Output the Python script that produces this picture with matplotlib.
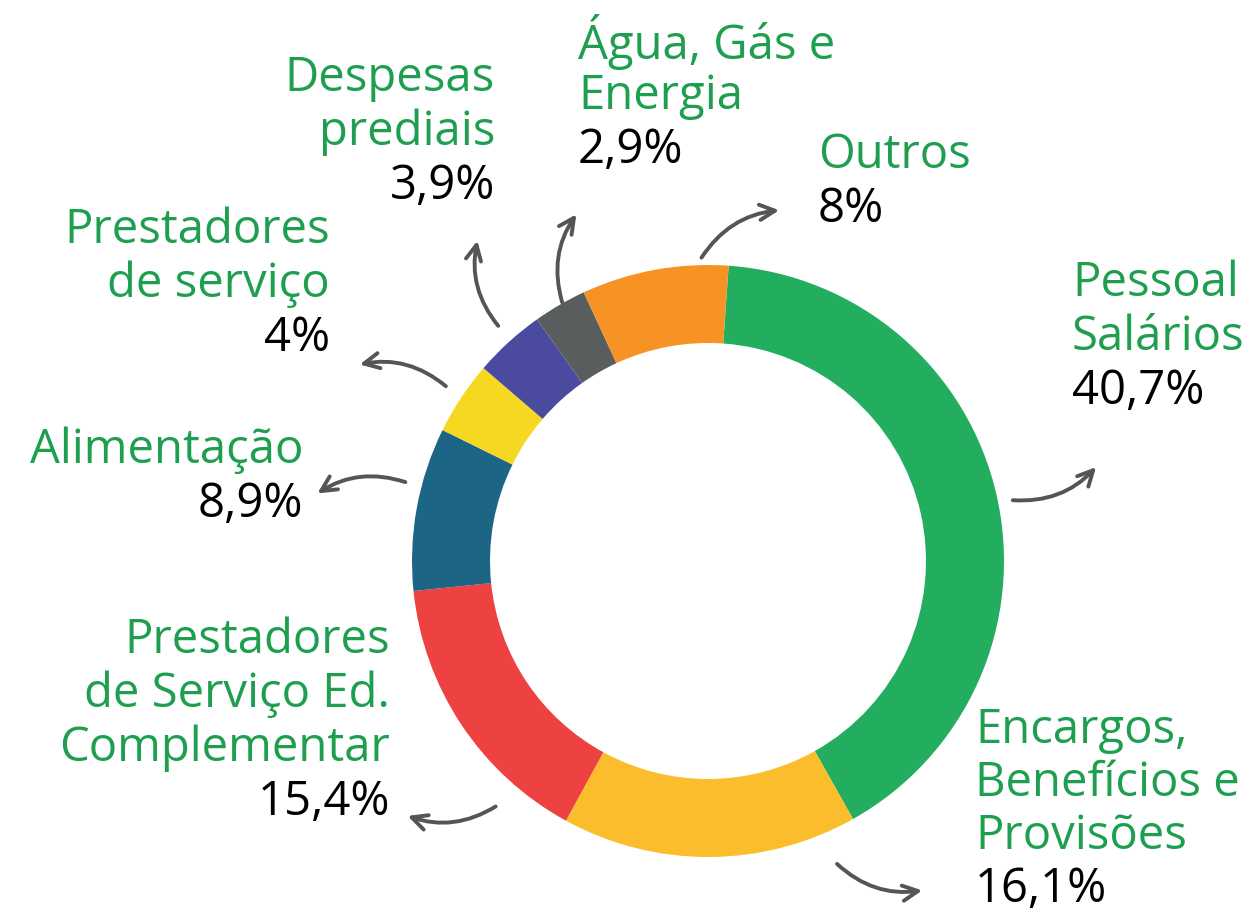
import matplotlib.pyplot as plt

# data
labels = ["Pessoal\nSalários", "Encargos,\nBenefícios e\nProvisões",
          "Prestadores\nde Serviço Ed.\nComplementar", "Alimentação",
          "Prestadores\nde serviço", "Despesas\nprediais",
          "Água, Gás e\nEnergia", "Outros"]
values = [40.7, 16.1, 15.4, 8.9, 4.0, 3.9, 2.9, 8.0]
pct_text = ["40,7%", "16,1%", "15,4%", "8,9%", "4%", "3,9%", "2,9%", "8%"]
colors = ["#23AE5F", "#FBBD2C", "#EE4242", "#1D6585",
          "#F6D823", "#4A4A9E", "#5A5D5E", "#F69324"]

W, H = 1254, 915
fig = plt.figure(figsize=(W / 100, H / 100), dpi=100)
ax = fig.add_axes([0, 0, 1, 1])

cx, cy, R = 708, H - 561, 296
ax.pie(values, colors=colors, startangle=86, counterclock=False,
       center=(cx, cy), radius=R,
       wedgeprops=dict(width=78, linewidth=0))
ax.set_xlim(0, W)
ax.set_ylim(0, H)
ax.set_aspect("equal")
ax.axis("off")

green = "#1E9E4F"
fs = 34
lh = 54  # line height in px

# (x, y of first line center in pixel coords from top, alignment, line height)
pos = [
    (1072, 283, "left", 54),
    (975, 730, "left", 53),
    (390, 640, "right", 54),
    (303, 450, "right", 54),
    (330, 230, "right", 54),
    (495, 78, "right", 54),
    (578, 42, "left", 54),
    (818, 155, "left", 54),
]
for lab, pct, (x, y, ha, lh) in zip(labels, pct_text, pos):
    lines = lab.split("\n")
    for i, line in enumerate(lines):
        ax.text(x, H - (y + i * lh), line, ha=ha, va="center",
                fontsize=fs, color=green, family="Open Sans")
    ax.text(x, H - (y + len(lines) * lh), pct, ha=ha, va="center",
            fontsize=fs, color="black", family="Open Sans")

# arrows: tail -> head (pixel coords from top), curvature
arrows = [
    ((1010, 500), (1098, 465), 0.25),
    ((835, 862), (925, 890), 0.25),
    ((498, 805), (405, 815), -0.25),
    ((408, 483), (315, 495), 0.25),
    ((448, 388), (357, 365), 0.25),
    ((500, 328), (478, 238), -0.25),
    ((563, 305), (578, 212), -0.25),
    ((700, 260), (782, 210), -0.25),
]
for (tx, ty), (hx, hy), rad in arrows:
    ax.annotate("", xy=(hx, H - hy), xytext=(tx, H - ty),
                arrowprops=dict(arrowstyle="->,head_length=1.1,head_width=0.55",
                                color="#555555", lw=2.8,
                                connectionstyle=f"arc3,rad={rad}"))

fig.savefig("out.png", dpi=100)
